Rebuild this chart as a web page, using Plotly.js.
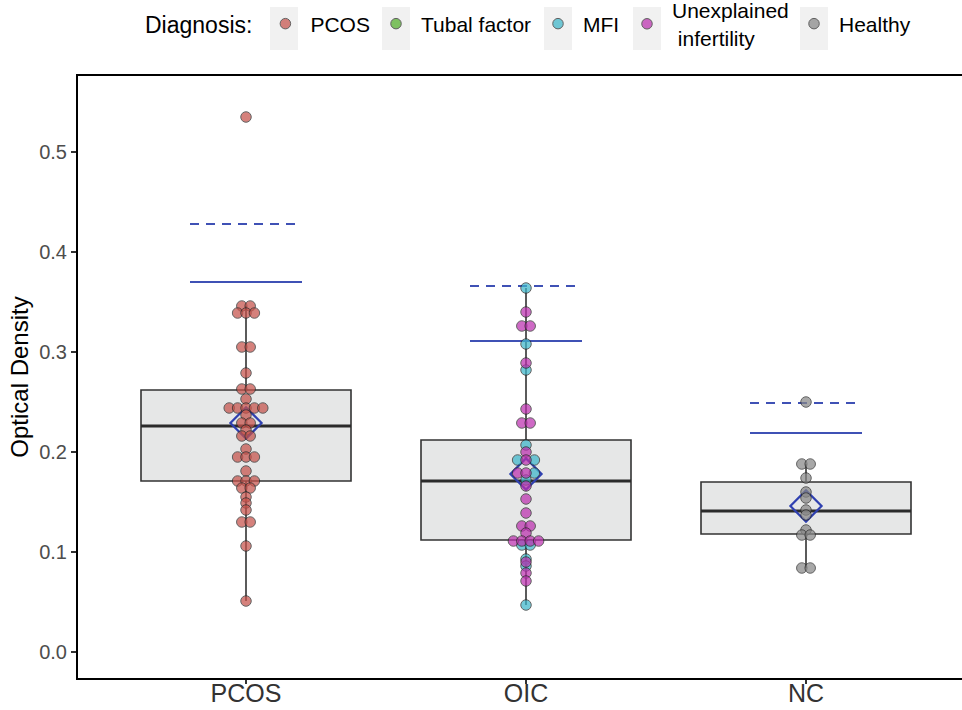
<!DOCTYPE html>
<html>
<head>
<meta charset="utf-8">
<script src="https://cdn.plot.ly/plotly-3.0.1.min.js"></script>
<style>
html, body { margin: 0; padding: 0; overflow: hidden; background: #fff; }
#chart { width: 974px; height: 710px; }
</style>
</head>
<body>
<div id="chart"></div>
<script>
// ---- Data ----
const categories = ['PCOS', 'OIC', 'NC'];
const diagnoses = ['PCOS', 'Tubal factor', 'MFI', 'Unexplained<br> infertility', 'Healthy'];

const boxQ1 = [0.171, 0.112, 0.118];
const boxMedian = [0.226, 0.171, 0.141];
const boxQ3 = [0.262, 0.212, 0.170];
const whiskerLow = [0.051, 0.047, 0.084];
const whiskerHigh = [0.346, 0.364, 0.188];
const groupMeans = [0.229, 0.178, 0.146];
const solidCutoff = [0.370, 0.311, 0.219];
const dashedCutoff = [0.428, 0.366, 0.249];

const pcosValues = [0.535, 0.346, 0.346, 0.339, 0.339, 0.339, 0.305, 0.305, 0.279,
  0.263, 0.263, 0.253, 0.244, 0.244, 0.244, 0.244, 0.244, 0.237, 0.229, 0.229,
  0.222, 0.216, 0.216, 0.203, 0.195, 0.195, 0.195, 0.181, 0.171, 0.171, 0.171,
  0.164, 0.164, 0.155, 0.149, 0.142, 0.130, 0.130, 0.106, 0.051];

const oicValues = [0.364, 0.340, 0.326, 0.326, 0.308, 0.289, 0.282, 0.243, 0.229, 0.229,
  0.207, 0.200, 0.192, 0.192, 0.192, 0.179, 0.179, 0.179, 0.172, 0.166, 0.153, 0.139,
  0.126, 0.126, 0.119, 0.111, 0.111, 0.111, 0.111, 0.107, 0.107, 0.093, 0.090, 0.086,
  0.079, 0.071, 0.047];
const oicDiagnosis = ['MFI', 'U', 'U', 'U', 'MFI', 'U', 'MFI', 'U', 'U', 'U',
  'MFI', 'U', 'MFI', 'U', 'MFI', 'U', 'U', 'MFI', 'MFI', 'U', 'U', 'U',
  'U', 'U', 'U', 'U', 'U', 'U', 'U', 'MFI', 'MFI', 'MFI', 'U', 'MFI',
  'U', 'U', 'MFI'];

const ncValues = [0.250, 0.188, 0.188, 0.174, 0.160, 0.154, 0.142, 0.137, 0.122,
  0.117, 0.117, 0.084, 0.084];

// ---- Styling ----
const FONT = 'Liberation Sans, Arial, Helvetica, sans-serif';
const colors = {
  'PCOS': '#c6524b',
  'Tubal factor': '#52af2a',
  'MFI': '#3db6ca',
  'U': '#bc30af',
  'Healthy': '#878787'
};
const blue = '#3f51b5';
const dx = 0.03;      // horizontal stacking step of the dot plot (axis units)
const halfLine = 0.2; // half-width of the cutoff lines
const boxWidth = 0.75;

// plot-area geometry in pixels (used only to place legend decorations)
const PL = 78, PW = 896, PT = 76, PH = 602;
const px2x = p => (p - PL) / PW;
const px2y = p => (PT + PH - p) / PH;

// centred stacking of equal values (dot plot, stackdir = center)
function swarm(values, center) {
  const groups = {};
  values.forEach((v, i) => {
    const k = v.toFixed(3);
    (groups[k] = groups[k] || []).push(i);
  });
  const xs = new Array(values.length);
  Object.values(groups).forEach(idx => {
    const n = idx.length;
    idx.forEach((i, j) => { xs[i] = center + (j - (n - 1) / 2) * dx; });
  });
  return xs;
}

function segs(vals, half) {
  const x = [], y = [];
  vals.forEach((v, i) => { x.push(i - half, i + half, null); y.push(v, v, null); });
  return {x, y};
}

const traces = [];

// boxes
traces.push({
  type: 'box',
  x: [0, 1, 2],
  q1: boxQ1, median: boxMedian, q3: boxQ3,
  lowerfence: whiskerLow, upperfence: whiskerHigh,
  width: boxWidth,
  whiskerwidth: 0,
  boxpoints: false,
  fillcolor: '#e6e7e7',
  line: {color: '#333333', width: 1.6},
  showlegend: false,
  hoverinfo: 'skip'
});

// thick median
const med = segs(boxMedian, boxWidth / 2);
traces.push({type: 'scatter', mode: 'lines', x: med.x, y: med.y,
  line: {color: '#2b2b2b', width: 3.2}, showlegend: false, hoverinfo: 'skip'});

// cutoff lines
const sol = segs(solidCutoff, halfLine);
traces.push({type: 'scatter', mode: 'lines', x: sol.x, y: sol.y,
  line: {color: blue, width: 2}, showlegend: false, hoverinfo: 'skip'});
const dsh = segs(dashedCutoff, halfLine);
traces.push({type: 'scatter', mode: 'lines', x: dsh.x, y: dsh.y,
  line: {color: blue, width: 2, dash: '9px,7px'}, showlegend: false, hoverinfo: 'skip'});

// means
traces.push({type: 'scatter', mode: 'markers', x: [0, 1, 2], y: groupMeans,
  marker: {symbol: 'diamond-open', size: 24, color: '#2f40b0', line: {width: 2.2, color: '#2f40b0'}},
  showlegend: false, hoverinfo: 'skip'});

// points
function pointTrace(name, x, y, color, legendId) {
  return {
    type: 'scatter', mode: 'markers', name: name, x: x, y: y,
    legend: legendId,
    marker: {size: 10.5, color: color, opacity: 0.72, line: {color: '#2a2a2a', width: 1}},
    hoverinfo: 'y'
  };
}
const pcosX = swarm(pcosValues, 0);
const oicX = swarm(oicValues, 1);
const ncX = swarm(ncValues, 2);
const mfiX = [], mfiY = [], uX = [], uY = [];
oicValues.forEach((v, i) => {
  if (oicDiagnosis[i] === 'MFI') { mfiX.push(oicX[i]); mfiY.push(v); }
  else { uX.push(oicX[i]); uY.push(v); }
});

traces.push(pointTrace(diagnoses[0], pcosX, pcosValues, colors['PCOS'], 'legend'));
traces.push(pointTrace(diagnoses[1], [null], [null], colors['Tubal factor'], 'legend2'));
traces.push(pointTrace(diagnoses[2], mfiX, mfiY, colors['MFI'], 'legend3'));
traces.push(pointTrace(diagnoses[3], uX, uY, colors['U'], 'legend4'));
traces.push(pointTrace(diagnoses[4], ncX, ncValues, colors['Healthy'], 'legend5'));

// legend placement (pixel centres of the legend keys in the reference)
const keyCentres = [284, 396, 558, 647, 814];
const legendRowY = 24;
function legendBox(leftPx, withTitle) {
  const lg = {
    orientation: 'h',
    x: px2x(leftPx), xanchor: 'left',
    y: px2y(legendRowY), yanchor: 'middle',
    valign: 'middle',
    itemwidth: 40,
    bgcolor: 'rgba(0,0,0,0)',
    font: {family: FONT, size: 21, color: '#000'}
  };
  if (withTitle) lg.title = {text: 'Diagnosis:', side: 'left', font: {family: FONT, size: 23, color: '#000'}};
  return lg;
}

const keyShapes = keyCentres.map(c => ({
  type: 'rect', xref: 'paper', yref: 'paper', layer: 'below',
  x0: px2x(c - 14), x1: px2x(c + 14), y0: px2y(50), y1: px2y(7),
  fillcolor: '#f1f1f1', line: {width: 0}
}));

const layout = {
  width: 974, height: 710,
  margin: {l: 78, r: 0, t: 76, b: 32, autoexpand: false},
  paper_bgcolor: '#ffffff', plot_bgcolor: '#ffffff',
  font: {family: FONT, color: '#000'},
  xaxis: {
    range: [-0.6, 2.6],
    tickvals: [0, 1, 2], ticktext: categories,
    showline: true, linecolor: '#000', linewidth: 2, mirror: true,
    ticks: 'outside', ticklen: 4, tickcolor: '#333', tickwidth: 1.5,
    ticklabelstandoff: -12,
    tickfont: {family: FONT, size: 25, color: '#333'},
    showgrid: false, zeroline: false
  },
  yaxis: {
    range: [-0.026, 0.576],
    tick0: 0, dtick: 0.1, tickformat: '.1f',
    showline: true, linecolor: '#000', linewidth: 2, mirror: true,
    ticks: 'outside', ticklen: 5, tickcolor: '#333', tickwidth: 1.5,
    tickfont: {family: FONT, size: 20, color: '#4d4d4d'},
    showgrid: false, zeroline: false,
    title: {text: 'Optical Density', font: {family: FONT, size: 24, color: '#000'}, standoff: 4}
  },
  legend: legendBox(143, true),
  legend2: legendBox(keyCentres[1] - 25, false),
  legend3: legendBox(keyCentres[2] - 25, false),
  legend4: legendBox(keyCentres[3] - 25, false),
  legend5: legendBox(keyCentres[4] - 25, false),
  shapes: keyShapes,
  showlegend: true
};

Plotly.newPlot('chart', traces, layout, {displayModeBar: false, staticPlot: true});
</script>
</body>
</html>
